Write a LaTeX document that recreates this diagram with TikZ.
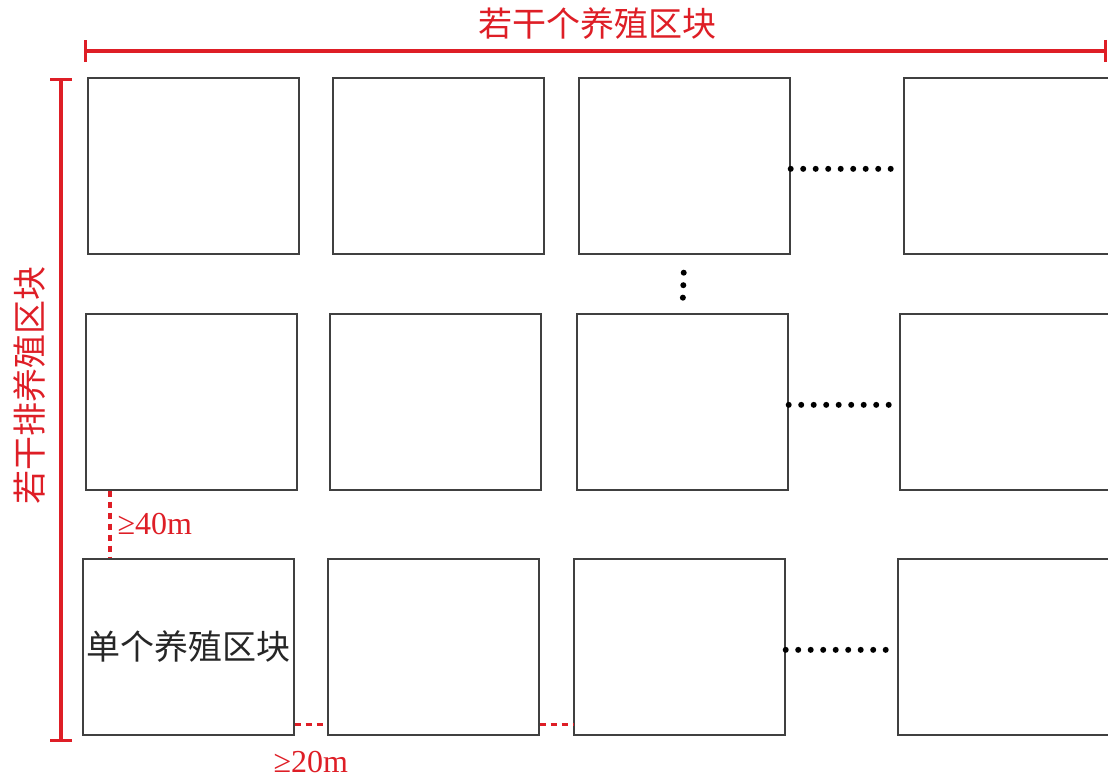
\documentclass[tikz,border=0pt]{standalone}
\usepackage{fontspec}
\setmainfont{Liberation Serif}
\newfontfamily\cjk{Noto Sans CJK SC}
\usetikzlibrary{arrows.meta}
\definecolor{dimred}{RGB}{222,30,38}
\begin{document}
\begin{tikzpicture}[x=1pt,y=-1pt,
	blk/.style={draw=black!75,line width=1.7pt,minimum width=211pt,minimum height=176pt,inner sep=0pt,anchor=north west},
	dimline/.style={dimred,line width=3.4pt,{Bar[width=22pt]}-{Bar[width=22pt]}},
	gap/.style={dimred,line width=3.2pt,dash pattern=on 6pt off 5pt},
	dotrow/.style={line width=6pt,line cap=round,dash pattern=on 0pt off 12.5pt},
	redlbl/.style={text=dimred,inner sep=0pt},
	gaplbl/.style={redlbl,font=\fontsize{32}{32}\selectfont},
	cjklbl/.style={font=\cjk\fontsize{34}{34}\selectfont}]
	\useasboundingbox (0,0) rectangle (1108,778);
	% blocks, row by row
	\node[blk] (b11) at (87,77) {};
	\node[blk] (b12) at (332,77) {};
	\node[blk] (b13) at (578,77) {};
	\node[blk] (b14) at (903,77) {};
	\node[blk] (b21) at (85,313) {};
	\node[blk] (b22) at (329,313) {};
	\node[blk] (b23) at (576,313) {};
	\node[blk] (b24) at (899,313) {};
	\node[blk,cjklbl,text=black!85] (b31) at (82,558) {单个养殖区块};
	\node[blk] (b32) at (327,558) {};
	\node[blk] (b33) at (573,558) {};
	\node[blk] (b34) at (897,558) {};
	% more blocks
	\draw[dotrow,shorten >=10pt] ([yshift=-3pt]b13.east) -- ([yshift=-3pt]b14.west);
	\draw[dotrow,shorten >=10pt] ([yshift=-3pt]b23.east) -- ([yshift=-3pt]b24.west);
	\draw[dotrow,shorten >=10pt] ([yshift=-3pt]b33.east) -- ([yshift=-3pt]b34.west);
	\draw[dotrow,shorten <=18pt,shorten >=15pt] (b13.south) -- (b23.north);
	% overall size
	\coordinate (tl) at (84,51);
	\coordinate (tr) at (1107,51);
	\draw[dimline] (tl) -- (tr);
	\node[redlbl,cjklbl] (toplbl) at (597,24) {若干个养殖区块};
	\coordinate (lt) at (61,78);
	\coordinate (lb) at (61,742);
	\draw[dimline] (lt) -- (lb);
	\node[redlbl,cjklbl,rotate=90] (sidelbl) at (30,385) {若干排养殖区块};
	% spacing
	\draw[gap] ([xshift=25pt]b21.south west) -- ([xshift=25pt]b21.south west |- b31.north)
		node[midway,right=6pt,gaplbl] (rowgap) {≥40m};
	\draw[gap] ([yshift=11pt]b31.south east) -- ([yshift=11pt]b31.south east -| b32.west)
		node[midway,below=25pt,gaplbl] (colgap) {≥20m};
	\draw[gap] ([yshift=11pt]b32.south east) -- ([yshift=11pt]b32.south east -| b33.west);
\end{tikzpicture}
\end{document}
